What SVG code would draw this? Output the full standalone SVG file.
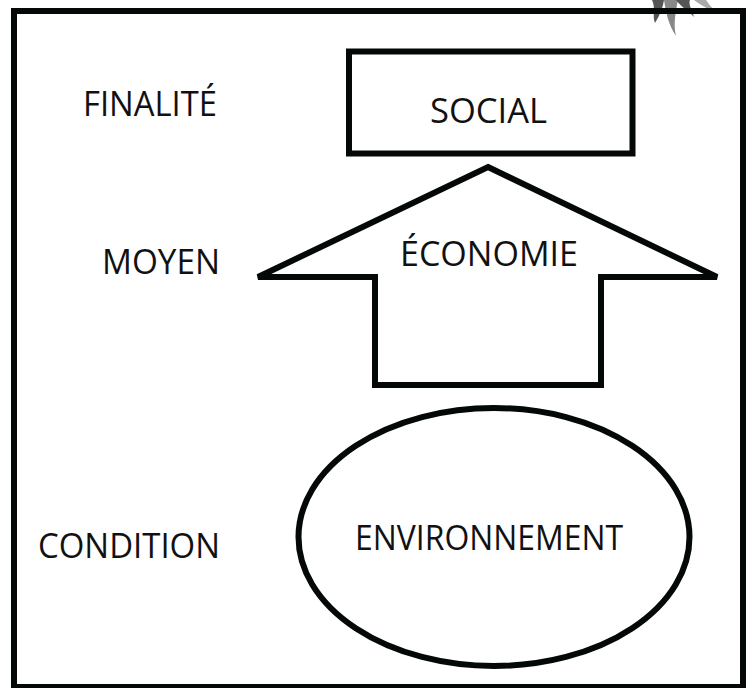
<svg xmlns="http://www.w3.org/2000/svg" width="752" height="688" viewBox="0 0 752 688">
<style>
.ln{fill:none;stroke:#050808;stroke-width:6;stroke-linejoin:miter}
.t{font-family:"Open Sans","Noto Sans","Liberation Sans",sans-serif;font-size:34px;fill:#111}
</style>
<rect width="752" height="688" fill="#fff"/>
<g id="decor">
<path d="M652,0 C656,8 652,16 655,23 C660,15 663,7 664,0 Z" fill="#555"/>
<path d="M664,0 C666,12 668,24 676,36 C673,24 676,10 678,0 Z" fill="#888"/>
<path d="M676,0 C682,8 690,12 694,17 C692,10 688,4 690,0 Z" fill="#555"/>
<path d="M694,0 C702,6 710,10 718,14 C712,8 708,3 706,0 Z" fill="#aaa"/>
</g>
<g id="frame"><rect class="ln" x="14" y="11" width="729" height="676" stroke-width="5"/></g>
<g id="labels">
<text class="t" x="83" y="116" textLength="134" lengthAdjust="spacingAndGlyphs">FINALITÉ</text>
<text class="t" x="102" y="274" textLength="118" lengthAdjust="spacingAndGlyphs">MOYEN</text>
<text class="t" x="38" y="558" textLength="182" lengthAdjust="spacingAndGlyphs">CONDITION</text>
</g>
<g id="social">
<rect class="ln" x="349" y="51.5" width="283.5" height="102"/>
<text class="t" x="430" y="123" textLength="117" lengthAdjust="spacingAndGlyphs">SOCIAL</text>
</g>
<g id="economie">
<polygon class="ln" points="488,167 717,277 601,277 601,385 375,385 375,277 258,277"/>
<text class="t" x="400" y="266" textLength="178" lengthAdjust="spacingAndGlyphs">ÉCONOMIE</text>
</g>
<g id="environnement">
<ellipse class="ln" cx="494" cy="537" rx="195.5" ry="129"/>
<text class="t" x="355" y="550" textLength="268" lengthAdjust="spacingAndGlyphs">ENVIRONNEMENT</text>
</g>
<g id="connectors"/>
</svg>
